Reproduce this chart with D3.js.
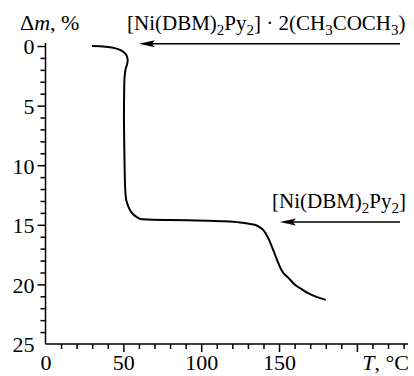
<!DOCTYPE html>
<html>
<head>
<meta charset="utf-8">
<script src="https://cdn.jsdelivr.net/npm/d3@7"></script>
<style>
  body { margin: 0; background: #fff; }
  svg, svg text { font-family: "Liberation Serif", "DejaVu Serif", serif; }
  svg { display: block; }
</style>
</head>
<body>
<div id="chart"></div>
<script>
// temperature (°C) and mass loss (%)
let temps = [29.8, 35, 41.4, 45, 47.8, 50.5, 52.1, 52.8, 52.3, 51.5, 50.8, 50.5, 50.4, 50.8, 51.2,
  51.8, 53, 54, 55.5, 57.5, 60.7, 65, 80, 103.7, 115, 125, 130, 134.5, 137.5, 139.9, 141.5,
  143, 145, 147.4, 149.5, 151.2, 153, 156, 160.4, 164.5, 168, 174, 180];
let massLoss = [0, 0.02, 0.1, 0.2, 0.33, 0.55, 0.8, 1.2, 1.6, 1.9, 2.6, 4, 6.2, 10, 12,
  12.9, 13.4, 13.7, 14, 14.25, 14.5, 14.55, 14.6, 14.65, 14.7, 14.8, 14.9, 15.0, 15.2, 15.45, 15.75,
  16.1, 16.7, 17.5, 18.2, 18.7, 19.07, 19.45, 20.05, 20.4, 20.7, 21.05, 21.3];

let xTicks = d3.range(0, 231, 10);
let xLabels = [0, 50, 100, 150];
let yTicks = d3.range(0, 26, 1);
let yLabels = [0, 5, 10, 15, 20, 25];

// annotations: label pieces, level on the curve (%), arrow tip temperature
let annotations = [
  { parts: [["[Ni(DBM)"], ["2", "sub"], ["Py"], ["2", "sub"], ["] · 2(CH"], ["3", "sub"], ["COCH"], ["3", "sub"], [")"]],
    level: -0.1, tip: 60, labelX: 127, labelY: 30 },
  { parts: [["[Ni(DBM)"], ["2", "sub"], ["Py"], ["2", "sub"], ["]"]],
    level: 14.85, tip: 150.5, labelX: 272, labelY: 208 }
];

let width = 414, height = 376;
let serif = "Liberation Serif, DejaVu Serif, serif";

let svg = d3.select("#chart").append("svg")
  .attr("width", width).attr("height", height);

let x = d3.scaleLinear().domain([0, 230]).range([45.5, 403.6]);
let y = d3.scaleLinear().domain([0, 25]).range([46, 344]);

// x axis
let xAxis = svg.append("g")
  .attr("transform", "translate(0," + y(25) + ")")
  .call(d3.axisBottom(x).tickValues(xTicks).tickSizeOuter(0).tickSize(5)
    .tickFormat(d => xLabels.includes(d) ? d : ""))
  .attr("font-family", serif).attr("font-size", 22);
xAxis.select(".domain").attr("d", "M" + x(0) + ",0H408");
xAxis.selectAll(".tick line").attr("y2", d => d % 50 === 0 && d > 0 ? 8 : 5);
xAxis.selectAll(".tick").filter(d => d === 0).select("line").remove();
xAxis.selectAll(".tick text")
  .attr("y", 370 - y(25)).attr("dy", 0);

// y axis
let yAxis = svg.append("g")
  .attr("transform", "translate(" + x(0) + ",0)")
  .call(d3.axisLeft(y).tickValues(yTicks).tickSizeOuter(0).tickSize(5)
    .tickFormat(d => yLabels.includes(d) ? d : ""))
  .attr("font-family", serif).attr("font-size", 22);
yAxis.select(".domain").attr("d", "M0," + (y(0) - 3) + "V" + y(25));
yAxis.selectAll(".tick line").attr("x2", d => d % 5 === 0 && d < 25 ? -8 : -5);
yAxis.selectAll(".tick").filter(d => d === 25).select("line").remove();
yAxis.selectAll(".tick text")
  .attr("x", -11).attr("dy", "0.36em");

svg.selectAll(".domain, .tick line").attr("stroke", "#000").attr("stroke-width", 1.5);
svg.selectAll(".tick text").attr("fill", "#000");

// axis titles
let yTitle = svg.append("text").attr("x", 20).attr("y", 30).attr("font-size", 22);
yTitle.append("tspan").text("Δ");
yTitle.append("tspan").attr("font-style", "italic").text("m");
yTitle.append("tspan").text(", %");

let xTitle = svg.append("text").attr("x", 409).attr("y", 370)
  .attr("text-anchor", "end").attr("font-size", 22);
xTitle.append("tspan").attr("font-style", "italic").text("T");
xTitle.append("tspan").text(", °C");

// curve
let points = temps.map((t, i) => [t, massLoss[i]]);
let line = d3.line()
  .x(d => x(d[0]))
  .y(d => y(d[1]))
  .curve(d3.curveCatmullRom.alpha(0.5));

svg.append("path")
  .attr("d", line(points))
  .attr("fill", "none")
  .attr("stroke", "#000")
  .attr("stroke-width", 2);

// annotation labels + arrows
annotations.forEach(a => {
  let t = svg.append("text")
    .attr("x", a.labelX).attr("y", a.labelY)
    .attr("font-size", 21);
  a.parts.forEach(p => {
    let s = t.append("tspan").text(p[0]);
    if (p[1] === "sub") s.attr("font-size", 15).attr("dy", 5);
    else s.attr("dy", t.selectAll("tspan").size() > 1 ? -5 : 0);
  });

  let yy = y(a.level) - 1;
  let tipX = x(a.tip);
  svg.append("line")
    .attr("x1", tipX + 10).attr("x2", 400)
    .attr("y1", yy).attr("y2", yy)
    .attr("stroke", "#000").attr("stroke-width", 1.5);
  svg.append("path")
    .attr("d", "M" + tipX + "," + yy + "L" + (tipX + 16) + "," + (yy - 3.5) +
      "L" + (tipX + 13) + "," + yy + "L" + (tipX + 16) + "," + (yy + 3.5) + "Z")
    .attr("fill", "#000");
});
</script>
</body>
</html>
